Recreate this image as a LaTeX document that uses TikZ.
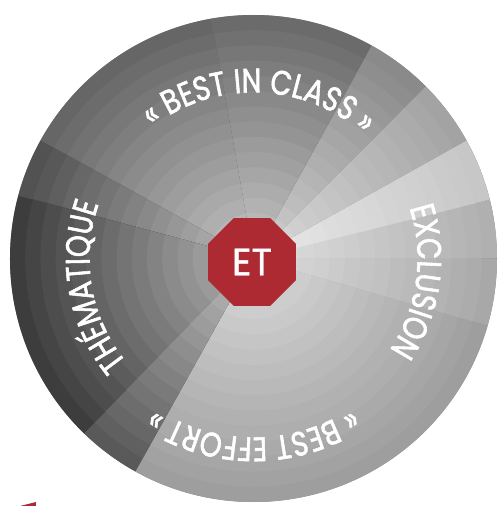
\documentclass[tikz,border=0pt]{standalone}
\usepackage{fontspec}
\setmainfont{Poppins}[FakeBold=1.2]
\newfontfamily\arcfont{Poppins}[FakeStretch=0.82, FakeBold=1.6]
\usetikzlibrary{shapes.geometric,decorations.text}
\definecolor{etred}{HTML}{AD2A33}

\begin{document}
\begin{tikzpicture}[
    x=1pt, y=1pt,
    arc label/.style={decorate, decoration={text along path,
        text align=center, text format delimiters={|}{|},
        text={|\arcfont\fontsize{34}{34}\selectfont\color{white}|#1}}},
    stop sign/.style={regular polygon, regular polygon sides=8,
        fill=etred, minimum size=95pt, inner sep=0pt, text=white,
        font=\fontsize{38}{38}\selectfont}
    ]
    \useasboundingbox (-253.5,-247.5) rectangle (244.5,258.5);
    % Base disc
    \fill[black!50] (0,0) circle (243.5);
    % Sectors, lighter towards the centre
    \foreach \a/\b/\d in {-119/-16/38, -16/0/34, 0/14/31, 14/29/22,
        29/45/36, 45/61/46, 61/100/58, 100/151/60, 151/165/68,
        165/226/76, 226/241/65} {
        \foreach \i in {16,...,1} {
            \pgfmathsetmacro\r{243.5*\i/16}
            \pgfmathsetmacro\k{\d*(0.36+0.64*\i/16)}
            \fill[black!\k] (0,0) -- (\a:\r)
                arc[start angle=\a, end angle=\b, radius=\r] -- cycle;
        }
    }
    % Labels round the disc
    \path[arc label={« BEST IN CLASS »}] (133:166)
        arc[start angle=133, end angle=43, radius=166];
    \path[arc label={EXCLUSION}] (42:164)
        arc[start angle=42, end angle=-58, radius=164];
    \path[arc label={THÉMATIQUE}] (240:164)
        arc[start angle=240, end angle=140, radius=164];
    \path[arc label={« BEST EFFORT »}] (-40:179)
        arc[start angle=-40, end angle=-140, radius=179];
    % Centre
    \node[stop sign] (et) at (-1.5,-3.5) {ET};
    % Red corner at the bottom edge
    \fill[etred] (-233.5,-247.5) -- (-217.5,-243.5) -- (-217.5,-247.5) -- cycle;
\end{tikzpicture}
\end{document}
